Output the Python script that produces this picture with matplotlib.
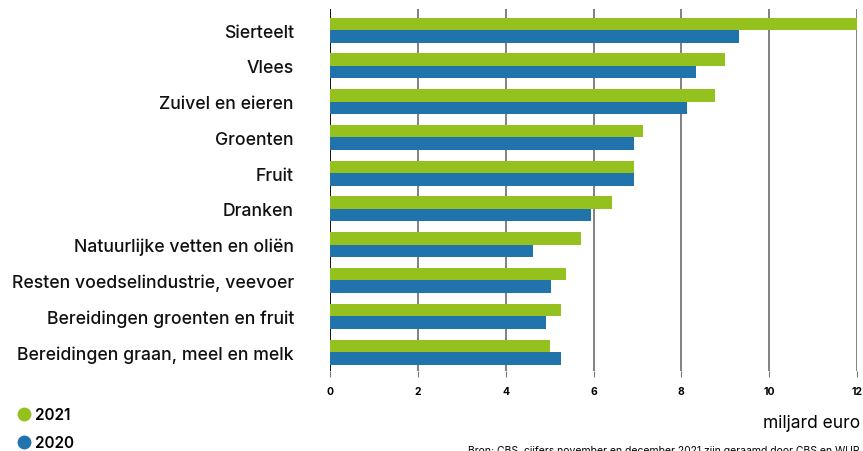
import numpy as np
import matplotlib
matplotlib.use("Agg")
import matplotlib.pyplot as plt
from matplotlib.lines import Line2D

categorieen = ["Sierteelt", "Vlees", "Zuivel en eieren", "Groenten", "Fruit",
               "Dranken", "Natuurlijke vetten en oliën",
               "Resten voedselindustrie, veevoer",
               "Bereidingen groenten en fruit",
               "Bereidingen graan, meel en melk"]
waarden_2021 = [12.0, 8.99, 8.77, 7.13, 6.92, 6.42, 5.72, 5.38, 5.26, 5.01]
waarden_2020 = [9.31, 8.33, 8.13, 6.92, 6.92, 5.95, 4.62, 5.03, 4.92, 5.26]
x_ticks = [0, 2, 4, 6, 8, 10, 12]

groen = "#95c11f"
blauw = "#2173ab"

plt.rcParams['font.family'] = ['Inter', 'DejaVu Sans']

fig = plt.figure(figsize=(8.63, 4.52), dpi=100)
ax = fig.add_axes([0.3824, 0.177, 0.6107, 0.801])

y = np.arange(len(categorieen))
h = 0.35
ax.barh(y - h / 2, waarden_2021, height=h, color=groen, zorder=3)
ax.barh(y + h / 2, waarden_2020, height=h, color=blauw, zorder=3)

ax.set_xlim(0, 12)
ax.set_ylim(9.53, -0.59)
ax.set_xticks(x_ticks)
ax.set_xticklabels([str(t) for t in x_ticks], fontsize=7.5, fontweight=700, color='black')
ax.set_yticks(y)
ax.set_yticklabels(categorieen, fontsize=12.7, fontweight=500, color='#111111')
ax.tick_params(axis='y', length=0, pad=26)
ax.tick_params(axis='x', length=4, color='#777777', pad=7)

for s in ax.spines.values():
    s.set_visible(False)
for t in x_ticks:
    ax.axvline(t, color='black' if t == 0 else '#777777', lw=1.3, zorder=1)

fig.text(0.997, 0.064, "miljard euro", ha='right', va='center', fontsize=12.5, fontweight=400)
fig.text(0.542, 0.003, "Bron: CBS, cijfers november en december 2021 zijn geraamd door CBS en WUR",
         ha='left', va='center', fontsize=7.5)

legend_items = [Line2D([0], [0], marker='o', color='w', markerfacecolor=groen, markersize=11, label='2021'),
                Line2D([0], [0], marker='o', color='w', markerfacecolor=blauw, markersize=11, label='2020')]
leg = fig.legend(handles=legend_items, loc='lower left', bbox_to_anchor=(0.005, -0.028),
                 frameon=False, fontsize=11, handlelength=0.8, handletextpad=0.3,
                 labelspacing=0.85)
for txt in leg.get_texts():
    txt.set_fontweight(600)

fig.savefig("out.png", dpi=100)
